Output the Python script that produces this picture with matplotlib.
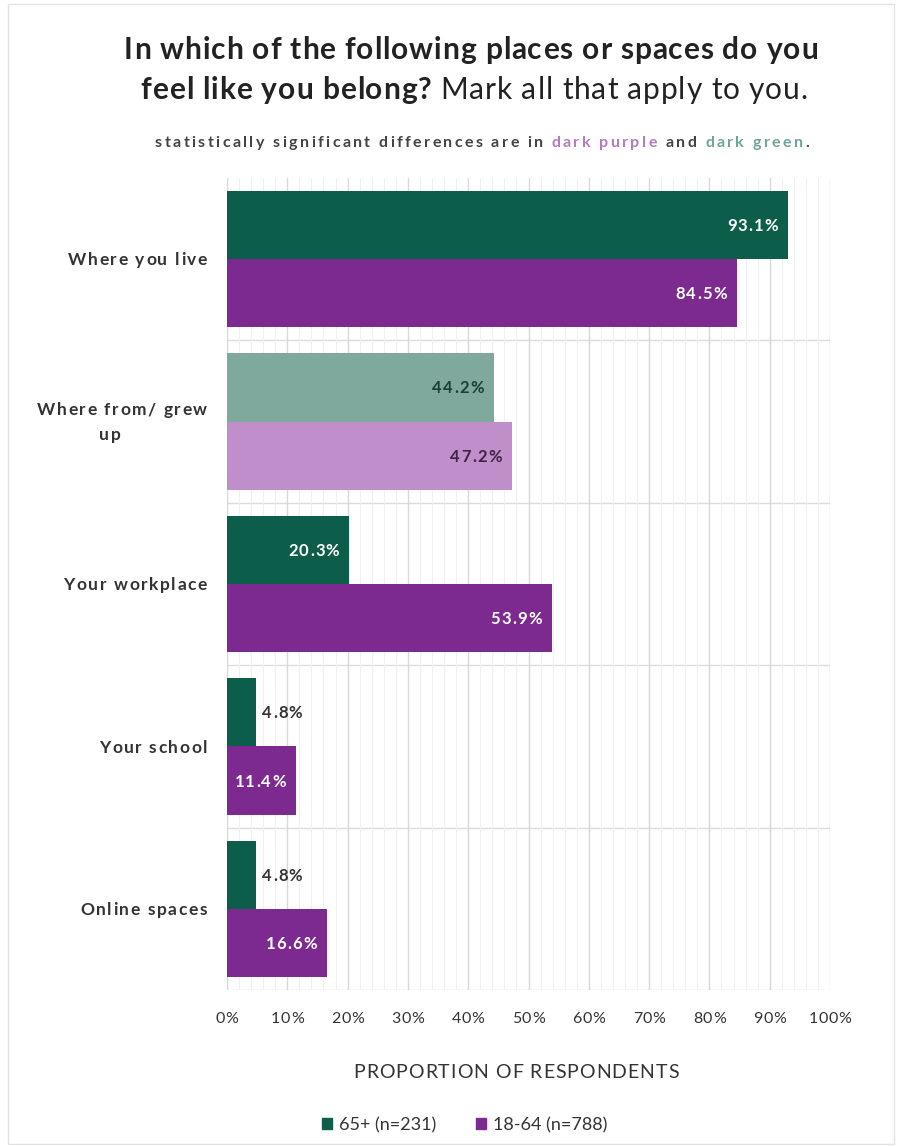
import numpy as np
import matplotlib.pyplot as plt
from matplotlib.patches import Patch, Rectangle

plt.rcParams['font.family'] = ['Lato', 'DejaVu Sans']

categories = ["Where you live", "Where from/ grew\nup", "Your workplace",
              "Your school", "Online spaces"]
older = [93.1, 44.2, 20.3, 4.8, 4.8]        # 65+
younger = [84.5, 47.2, 53.9, 11.4, 16.6]    # 18-64
significant = [True, False, True, True, True]
series_names = ["65+ (n=231)", "18-64 (n=788)"]
ticks = list(range(0, 101, 10))

green, green_light = "#0c5d4a", "#7ea99c"
purple, purple_light = "#7c2a8f", "#c08ecb"
green_text, purple_text = "#1c4037", "#3f2247"
ink = "#333333"

W, H = 903, 1146
fig = plt.figure(figsize=(W / 100, H / 100), dpi=100)
ax = fig.add_axes([227 / W, 1 - 990 / H, (830 - 227) / W, (990 - 178) / H])
renderer = fig.canvas.get_renderer()

# the source chart uses letter-spaced text, so text is laid out char by char
_cw = {}


def char_w(c, size, weight):
    key = (c, size, weight)
    if key not in _cw:
        a = fig.text(0, 0, "|" + c + "|", fontsize=size, fontweight=weight)
        b = fig.text(0, 0, "||", fontsize=size, fontweight=weight)
        _cw[key] = a.get_window_extent(renderer).width - b.get_window_extent(renderer).width
        a.remove()
        b.remove()
    return _cw[key]


def text_w(s, size, weight, track):
    return sum(char_w(c, size, weight) for c in s) + track * (len(s) - 1)


def draw_pieces(x, yb, pieces):
    # x, yb in display pixels (origin bottom-left), yb = baseline
    for s, size, weight, color, track in pieces:
        for c in s:
            if c != " ":
                fig.text(x / W, yb / H, c, fontsize=size, fontweight=weight, color=color,
                         ha='left', va='baseline', zorder=6)
            x += char_w(c, size, weight) + track
    return x


def tracked(x, yb, s, size, weight='normal', color=ink, track=0.0, ha='left'):
    w = text_w(s, size, weight, track)
    if ha == 'center':
        x -= w / 2
    elif ha == 'right':
        x -= w
    draw_pieces(x, yb, [(s, size, weight, color, track)])


def centered_line(xc, yb, pieces):
    total = sum(text_w(s, sz, wt, tr) + tr for s, sz, wt, _, tr in pieces) - pieces[-1][4]
    draw_pieces(xc - total / 2, yb, pieces)


def cap_off(size):
    return 0.36 * size * 100 / 72


y = np.arange(len(categories))
h = 0.42
bars = []
for i in y:
    sig = significant[i]
    for val, off, dark, light, tcol in [(older[i], -h / 2, green, green_light, green_text),
                                         (younger[i], h / 2, purple, purple_light, purple_text)]:
        ax.barh(i + off, val, height=h, color=dark if sig else light, zorder=3)
        bars.append((val, i + off, sig, tcol))

ax.set_xlim(0, 100)
ax.set_ylim(len(categories) - 0.5, -0.5)
ax.set_xticks(ticks)
ax.set_xticklabels([])
ax.set_xticks(np.arange(0, 101, 2), minor=True)
ax.set_yticks(y)
ax.set_yticklabels([])
ax.tick_params(length=0, which='both')
ax.grid(axis='x', which='major', color="#d8d8d8", lw=1, zorder=0)
ax.grid(axis='x', which='minor', color="#f0f0f0", lw=0.8, zorder=0)
for b in np.arange(0.5, len(categories), 1):
    ax.axhline(b, color="#dcdcdc", lw=1, zorder=1)
for s in ax.spines.values():
    s.set_visible(False)

# value labels
vsize = 12
for val, yy, sig, tcol in bars:
    px, py = ax.transData.transform((val, yy))
    if val < 8:
        tracked(px + 6, py - cap_off(vsize), f"{val:.1f}%", vsize, 'bold', ink, 1.2)
    else:
        tracked(px - 10, py - cap_off(vsize), f"{val:.1f}%", vsize, 'bold',
                "white" if sig else tcol, 1.2, ha='right')

# category labels
csize = 12.5
ctrack = 1.6
for i, cat in enumerate(categories):
    _, py = ax.transData.transform((0, i))
    lines = cat.split("\n")
    lh = 25
    w0 = text_w(lines[0], csize, 'bold', ctrack)
    for k, line in enumerate(lines):
        yb = py + lh * ((len(lines) - 1) / 2 - k) - cap_off(csize)
        if k == 0:
            tracked(207, yb, line, csize, 'bold', ink, ctrack, ha='right')
        else:
            tracked(207 - w0 / 2 - 12, yb, line, csize, 'bold', ink, ctrack, ha='center')

# x tick labels
for t in ticks:
    px, _ = ax.transData.transform((t, 0))
    tracked(px, H - 1023, f"{t}%", 11.5, 'normal', ink, 0.6, ha='center')

tracked(516, H - 1078, "PROPORTION OF RESPONDENTS", 14, 'normal', ink, 1.0, ha='center')

# title and subtitle
centered_line(471, H - 59, [("In which of the following places or spaces do you",
                             21.5, 'bold', "#222222", 0.9)])
centered_line(474, H - 99, [("feel like you belong? ", 21.5, 'bold', "#222222", 0.9),
                            ("Mark all that apply to you.", 21.5, 'normal', "#222222", 0.9)])
sub = [("statistically significant differences are in ", 11.5, 'bold', "#444444", 2.4),
       ("dark purple", 11.5, 'bold', "#b47cc0", 2.4),
       (" and ", 11.5, 'bold', "#444444", 2.4),
       ("dark green", 11.5, 'bold', "#6fa597", 2.4),
       (".", 11.5, 'bold', "#444444", 2.4)]
centered_line(482, H - 147, sub)

handles = [Patch(color=green), Patch(color=purple)]
fig.legend(handles, series_names, loc='center', bbox_to_anchor=(465 / W, 1 - 1125 / H),
           ncol=2, frameon=False, fontsize=13, handlelength=0.55, handleheight=0.55,
           handletextpad=0.4, columnspacing=2.2, labelcolor=ink)

fig.patches.append(Rectangle((8 / W, 2 / H), 886 / W, 1140 / H, transform=fig.transFigure,
                             fill=False, edgecolor="#e2e2e2", lw=1))

fig.savefig("out.png", dpi=100)
